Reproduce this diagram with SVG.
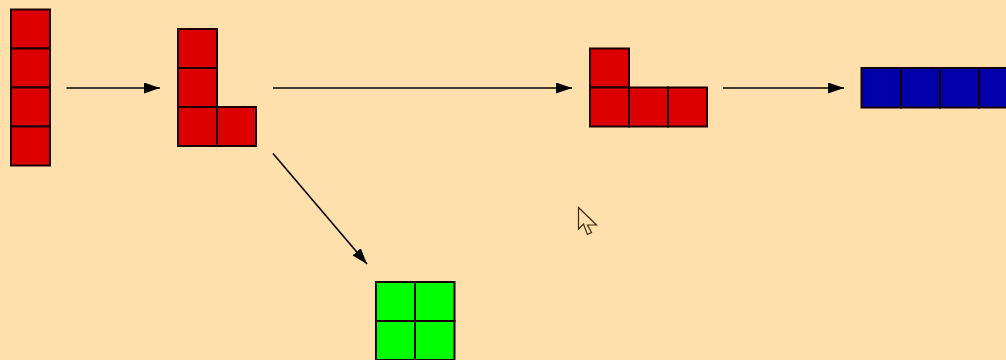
<svg xmlns="http://www.w3.org/2000/svg" width="1006" height="360" viewBox="0 0 1006 360">
<style>
.c{stroke:#1a0000;stroke-width:2}
.r{fill:#dd0000}
.b{fill:#0000aa}
.g{fill:#00ff00}
.e{stroke:#000;stroke-width:1.6;fill:none}
</style>
<defs>
<marker id="ah" viewBox="0 0 16 11" refX="16" refY="5.5" markerWidth="16" markerHeight="11" markerUnits="userSpaceOnUse" orient="auto">
<path d="M0,0 L16,5.5 L0,11 Z" fill="#000"/>
</marker>
</defs>
<rect width="1006" height="360" fill="#ffdfab"/>
<g id="piece-i">
<rect class="c r" x="11" y="9.5" width="39" height="39"/>
<rect class="c r" x="11" y="48.5" width="39" height="39"/>
<rect class="c r" x="11" y="87.5" width="39" height="39"/>
<rect class="c r" x="11" y="126.5" width="39" height="39"/>
</g>
<g id="piece-l">
<rect class="c r" x="178" y="29" width="39" height="39"/>
<rect class="c r" x="178" y="68" width="39" height="39"/>
<rect class="c r" x="178" y="107" width="39" height="39"/>
<rect class="c r" x="217" y="107" width="39" height="39"/>
</g>
<g id="piece-j">
<rect class="c r" x="590" y="48.5" width="39" height="39"/>
<rect class="c r" x="590" y="87.5" width="39" height="39"/>
<rect class="c r" x="629" y="87.5" width="39" height="39"/>
<rect class="c r" x="668" y="87.5" width="39" height="39"/>
</g>
<g id="piece-blue">
<rect class="c b" x="861.5" y="68" width="39.5" height="39.5"/>
<rect class="c b" x="901" y="68" width="39" height="39.5"/>
<rect class="c b" x="940" y="68" width="39" height="39.5"/>
<rect class="c b" x="979" y="68" width="39" height="39.5"/>
</g>
<g id="piece-green">
<rect class="c g" x="376" y="282" width="39" height="39"/>
<rect class="c g" x="415" y="282" width="39.5" height="39"/>
<rect class="c g" x="376" y="321" width="39" height="39"/>
<rect class="c g" x="415" y="321" width="39.5" height="39"/>
</g>
<g id="connectors">
<line class="e" x1="66.5" y1="88" x2="160" y2="88" marker-end="url(#ah)"/>
<line class="e" x1="273" y1="88" x2="572" y2="88" marker-end="url(#ah)"/>
<line class="e" x1="723" y1="88" x2="844" y2="88" marker-end="url(#ah)"/>
<line class="e" x1="273" y1="153.5" x2="367" y2="264" marker-end="url(#ah)"/>
</g>
<path id="cursor" d="M578.5,207.5 L578.5,229 L583.5,224 L587.5,234.5 L591.5,232.5 L587.5,225 L596.5,225 Z" fill="#ffdfab" stroke="#3a2a10" stroke-width="1.2" stroke-linejoin="miter"/>
</svg>
